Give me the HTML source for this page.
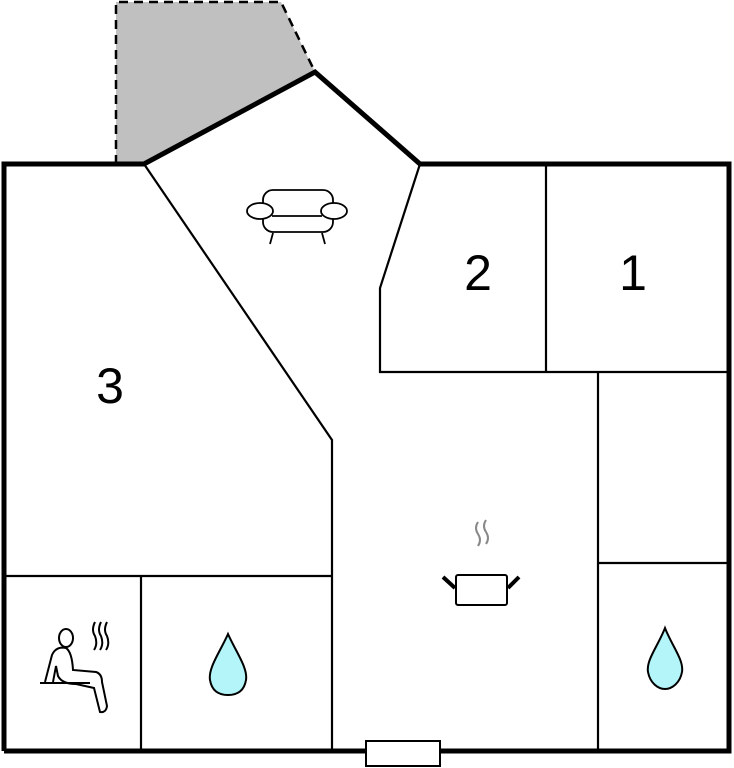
<!DOCTYPE html>
<html><head><style>body{margin:0;background:#fff}svg{display:block}</style></head><body>
<svg width="734" height="768" viewBox="0 0 734 768" xmlns="http://www.w3.org/2000/svg">
<polygon points="116,2 281,2 315,72 144,164 116,164" fill="#c0c0c0"/>
<polyline points="116,164 116,2 281,2 315,72" fill="none" stroke="#000" stroke-width="2.5" stroke-dasharray="9,6"/>
<g fill="none" stroke="#000" stroke-width="2.2">
<polyline points="144,164 332,440 332,751"/>
<polyline points="420,164 380,288 380,372 729,372"/>
<line x1="546" y1="164" x2="546" y2="372"/>
<line x1="598" y1="372" x2="598" y2="751"/>
<line x1="598" y1="563" x2="729" y2="563"/>
<line x1="4" y1="576" x2="332" y2="576"/>
<line x1="141" y1="576" x2="141" y2="751"/>
</g>
<g fill="none" stroke="#000" stroke-width="5">
<polyline points="4,751 4,164 144,164 315,72 420,164 729,164 729,751 4,751"/>
</g>
<rect x="366" y="741" width="74" height="25" fill="#fff" stroke="#000" stroke-width="2"/>
<g font-family="Liberation Sans, sans-serif" font-size="50" text-anchor="middle" fill="#000">
<text x="110" y="403">3</text><text x="478" y="290">2</text><text x="633" y="290">1</text>
</g>
<!-- sofa -->
<g fill="#fff" stroke="#000" stroke-width="1.8">
<rect x="263" y="190" width="70" height="42" rx="10"/>
<rect x="263" y="216" width="70" height="0"/>
<ellipse cx="260" cy="211" rx="13" ry="8"/>
<ellipse cx="334" cy="211" rx="13" ry="8"/>
<line x1="273" y1="233" x2="270" y2="244"/><line x1="322" y1="233" x2="325" y2="244"/>
</g>
<line x1="272" y1="216" x2="322" y2="216" stroke="#000" stroke-width="1.8"/>
<!-- pot -->
<rect x="456" y="575" width="51" height="30" rx="2" fill="#fff" stroke="#000" stroke-width="2"/>
<line x1="443" y1="577" x2="455" y2="588" stroke="#000" stroke-width="4"/>
<line x1="519" y1="577" x2="508" y2="588" stroke="#000" stroke-width="4"/>
<g fill="none" stroke="#888" stroke-width="2">
<path d="M478,522 q-4,6 0,12 q4,6 0,12"/><path d="M486,520 q-4,6 0,12 q4,6 0,12"/>
</g>
<!-- drops -->
<g fill="#b3f5f8" stroke="#000" stroke-width="2">
<path d="M228,634 C236,652 248,668 246,680 C244,692 236,695 228,695 C220,695 212,692 210,680 C208,668 220,652 228,634 Z"/>
<path d="M665,628 C672,646 684,660 682,672 C680,683 672,689 665,689 C658,689 650,683 648,672 C646,660 658,646 665,628 Z"/>
</g>
<!-- sauna -->
<g fill="none" stroke="#000" stroke-width="2">
<ellipse cx="66" cy="638" rx="7" ry="9"/>
<path d="M45,682 L52,655 Q56,646 66,648 Q72,652 73,670 L96,672 Q102,674 102,682 L107,706 Q106,713 100,712 L94,688 L76,684 Q62,684 58,676 L56,666 L53,682"/>
<line x1="40" y1="683" x2="90" y2="683"/>
<path d="M95,622 q-4,8 0,14 q3,8 -1,14"/><path d="M101,622 q-4,8 0,14 q3,8 -1,14"/><path d="M107,622 q-4,8 0,14 q3,8 -1,14"/>
</g>
</svg>
</body></html>
